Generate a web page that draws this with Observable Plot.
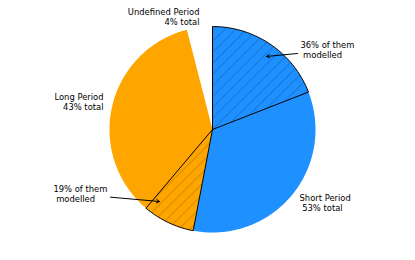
<!DOCTYPE html>
<html>
<head>
<meta charset="utf-8">
<script src="https://cdn.jsdelivr.net/npm/d3@7"></script>
<script src="https://cdn.jsdelivr.net/npm/@observablehq/plot@0.6"></script>
<style>
  html, body { margin: 0; padding: 0; background: #fff; }
  svg text { white-space: pre; }
</style>
</head>
<body>
<div id="chart"></div>
<script>
// ---- data ----
const categories = ["Short Period", "Long Period", "Undefined Period"];
const shares = [53, 43, 4];              // % of total
const modelledShares = [36, 19, 0];      // % of each category that is modelled
const colors = ["#1e90ff", "#ffa500", "#ffffff"];
const explode = [0, 0, 0.1];
const labelTexts = ["Short Period\n 53% total", "Long Period\n43% total", "Undefined Period\n4% total"];
const modelledTexts = ["36% of them\n modelled", "19% of them\n modelled"];

// ---- layout (data units; pie radius = 1) ----
const labelPos = [
  {x: 0.845, y: -0.709, anchor: "start"},
  {x: -1.058, y: 0.272, anchor: "end"},
  {x: -0.126, y: 1.097, anchor: "end"}
];
const modelledPos = [
  {x: 0.854, y: 0.777, x1: 0.825, y1: 0.738, x2: 0.524, y2: 0.709},
  {x: -1.544, y: -0.626, x1: -0.990, y1: -0.657, x2: -0.515, y2: -0.699}
];

// ---- geometry from data ----
const total = d3.sum(shares);
function wedge(id, a0, a1, off, extra) {
  // angles in degrees, clockwise from 12 o'clock
  const mid = (a0 + a1) / 2 * Math.PI / 180;
  const ox = off * Math.sin(mid), oy = off * Math.cos(mid);
  const pts = [{id, x: ox, y: oy, ...extra}];
  const n = Math.max(2, Math.ceil(Math.abs(a1 - a0)));
  for (let i = 0; i <= n; i++) {
    const a = (a0 + (a1 - a0) * i / n) * Math.PI / 180;
    pts.push({id, x: ox + Math.sin(a), y: oy + Math.cos(a), ...extra});
  }
  pts.push({id, x: ox, y: oy, ...extra});
  return pts;
}
let acc = 0;
const wedgePts = [], hatchPts = [];
categories.forEach((c, i) => {
  const a0 = acc / total * 360, a1 = (acc + shares[i]) / total * 360;
  wedgePts.push(...wedge(c, a0, a1, explode[i], {color: colors[i]}));
  if (modelledShares[i] > 0) {
    const am = a0 + (a1 - a0) * modelledShares[i] / 100;
    hatchPts.push(...wedge(c + " modelled", a0, am, explode[i], {}));
  }
  acc += shares[i];
});

const labels = categories.map((c, i) => ({text: labelTexts[i], ...labelPos[i]}));
const mlabels = modelledTexts.map((t, i) => ({text: t, ...modelledPos[i]}));

const W = 415, H = 260, R = 103, CX = 212, CY = 129;

const defs = () => {
  const ns = "http://www.w3.org/2000/svg";
  const d = document.createElementNS(ns, "defs");
  d.innerHTML = `<pattern id="hatch" patternUnits="userSpaceOnUse" width="11" height="11">
    <path d="M-1,1 L1,-1 M0,11 L11,0 M10,12 L12,10" stroke="#000" stroke-opacity="0.3" stroke-width="0.8" fill="none"/>
  </pattern>`;
  return d;
};

const textOpts = {x: "x", y: "y", text: "text", lineHeight: 1.19, fill: "#000", fontSize: 8.4};

const chart = Plot.plot({
  width: W, height: H,
  margin: 0,
  x: {domain: [-CX / R, (W - CX) / R], range: [0, W], axis: null},
  y: {domain: [-(H - CY) / R, CY / R], range: [H, 0], axis: null},
  color: {type: "identity"},
  style: {fontFamily: "DejaVu Sans", fontSize: "8.4px", background: "#fff"},
  marks: [
    defs,
    Plot.line(wedgePts, {x: "x", y: "y", z: "id", fill: "color", stroke: "none", curve: "linear"}),
    Plot.line(hatchPts, {x: "x", y: "y", z: "id", fill: "url(#hatch)", stroke: "#000", strokeWidth: 1, curve: "linear"}),
    Plot.text(labels.filter(d => d.anchor === "start"), {...textOpts, textAnchor: "start"}),
    Plot.text(labels.filter(d => d.anchor === "end"), {...textOpts, textAnchor: "end"}),
    Plot.text(mlabels, {...textOpts, textAnchor: "start"}),
    Plot.arrow(mlabels, {x1: "x1", y1: "y1", x2: "x2", y2: "y2", stroke: "#000", strokeWidth: 1, headLength: 5})
  ]
});
document.getElementById("chart").appendChild(chart);
</script>
</body>
</html>
